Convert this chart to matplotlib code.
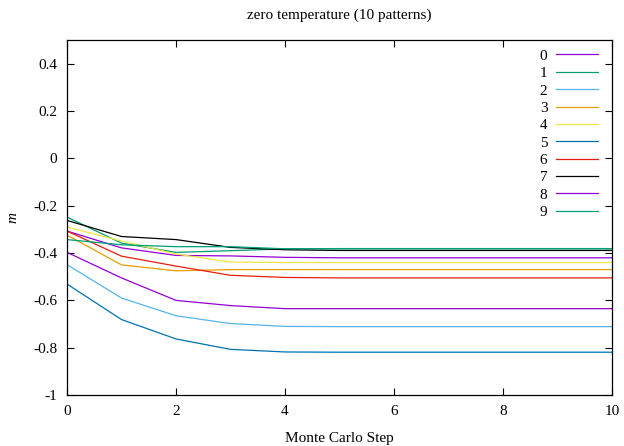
import numpy as np
import matplotlib.pyplot as plt

plt.rcParams['font.family'] = ['Liberation Serif', 'DejaVu Serif']

# Monte Carlo steps
steps = list(range(11))

# overlap m per pattern
m0 = [-0.307, -0.378, -0.410, -0.412, -0.418, -0.420, -0.420, -0.420, -0.420, -0.420, -0.420]
m1 = [-0.248, -0.358, -0.397, -0.390, -0.382, -0.381, -0.381, -0.381, -0.381, -0.381, -0.381]
m2 = [-0.449, -0.590, -0.665, -0.698, -0.710, -0.711, -0.711, -0.711, -0.711, -0.711, -0.711]
m3 = [-0.324, -0.450, -0.475, -0.470, -0.470, -0.470, -0.470, -0.470, -0.470, -0.470, -0.470]
m4 = [-0.290, -0.349, -0.404, -0.438, -0.440, -0.440, -0.440, -0.440, -0.440, -0.440, -0.440]
m5 = [-0.531, -0.681, -0.763, -0.807, -0.818, -0.819, -0.819, -0.819, -0.819, -0.819, -0.819]
m6 = [-0.307, -0.413, -0.455, -0.494, -0.503, -0.505, -0.505, -0.505, -0.505, -0.505, -0.505]
m7 = [-0.262, -0.330, -0.343, -0.376, -0.386, -0.389, -0.389, -0.389, -0.389, -0.389, -0.389]
m8 = [-0.397, -0.505, -0.600, -0.622, -0.635, -0.635, -0.635, -0.635, -0.635, -0.635, -0.635]
m9 = [-0.343, -0.365, -0.373, -0.373, -0.382, -0.382, -0.382, -0.382, -0.382, -0.382, -0.382]

series = [m0, m1, m2, m3, m4, m5, m6, m7, m8, m9]
labels = [str(i) for i in range(10)]

# gnuplot default colours
renkler = ['#9400d3', '#009e73', '#56b4e9', '#e69f00', '#f0e442',
           '#0072b2', '#e51e10', '#000000', '#9400d3', '#009e73']

fig = plt.figure(figsize=(6.24, 4.46), dpi=100)
ax = fig.add_axes([0.1074, 0.1143, 0.8734, 0.7957])

for m, lab, c in zip(series, labels, renkler):
    ax.plot(steps, m, color=c, lw=0.9, label=lab)

ax.set_xlim(0, 10)
ax.set_ylim(-1, 0.5)
ax.set_xticks([0, 2, 4, 6, 8, 10])
ax.set_yticks([-1, -0.8, -0.6, -0.4, -0.2, 0, 0.2, 0.4])
ax.set_yticklabels(['-1', '-0.8', '-0.6', '-0.4', '-0.2', '0', '0.2', '0.4'])
ax.tick_params(direction='in', top=True, right=True, length=5, width=0.8,
               labelsize=11, pad=7)
for s in ax.spines.values():
    s.set_linewidth(0.9)

ax.set_title('zero temperature (10 patterns)', fontsize=11, pad=15)
ax.set_xlabel('Monte Carlo Step', fontsize=11, labelpad=10)
ax.set_ylabel('m', fontsize=11, style='italic', labelpad=10)

ax.legend(loc='upper right', bbox_to_anchor=(0.985, 0.992), frameon=False,
          markerfirst=False, fontsize=11, handlelength=2.7, labelspacing=0.24,
          handletextpad=0.6, borderaxespad=0.0)

fig.savefig('out.png', dpi=100)
